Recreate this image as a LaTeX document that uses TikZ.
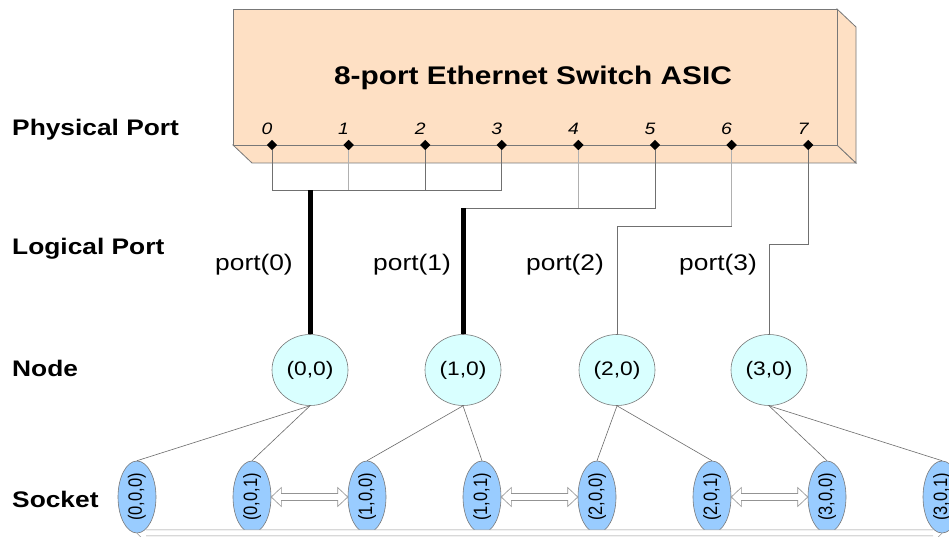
\documentclass[tikz,border=0pt]{standalone}
\usepackage{fontspec}
\setmainfont{Liberation Sans}[FakeStretch=1.17]
\newfontfamily\uprightsans{Liberation Sans}
\usetikzlibrary{shapes.geometric,calc}

\definecolor{asicfill}{RGB}{254,224,196}
\definecolor{cpufill}{RGB}{217,255,255}
\definecolor{sockfill}{RGB}{153,204,255}
\definecolor{wiredark}{RGB}{112,112,112}
\definecolor{wirelight}{RGB}{176,176,176}
\definecolor{outline}{RGB}{120,120,120}

% hollow double arrow between two sockets (east side of #1 to west side of #2)
\newcommand\linkarrow[2]{%
  \draw[linkarrow] (#1.east) -- ($(#1.east)+(10,-9.5)$) -- ($(#1.east)+(10,-3.5)$)
    -- ($(#2.west)+(-10,-3.5)$) -- ($(#2.west)+(-10,-9.5)$) -- (#2.west)
    -- ($(#2.west)+(-10,9.5)$) -- ($(#2.west)+(-10,3.5)$)
    -- ($(#1.east)+(10,3.5)$) -- ($(#1.east)+(10,9.5)$) -- cycle;}
% socket caption, reading upwards, widened across the text
\newcommand\socktext[1]{\rotatebox{90}{\scalebox{1}[1.17]{#1}}}

\begin{document}
\begin{tikzpicture}[x=1pt,y=-1pt,
  face/.style={fill=asicfill, draw=outline, line width=0.8pt, line join=miter},
  portpin/.style={diamond, fill=black, inner sep=0pt, minimum size=10.5pt},
  pinlabel/.style={font=\fontsize{16.5}{18}\selectfont\itshape, inner sep=0pt},
  wire/.style={draw=wiredark, line width=0.8pt},
  wirelt/.style={draw=wirelight, line width=0.8pt},
  trunk/.style={draw=black, line width=5pt},
  rowlabel/.style={font=\fontsize{22.5}{26}\selectfont\bfseries, anchor=base west, inner sep=0pt},
  portname/.style={font=\fontsize{22.5}{26}\selectfont, anchor=base, inner sep=0pt},
  cpunode/.style={ellipse, draw=outline, fill=cpufill, line width=0.6pt,
    minimum width=76pt, minimum height=71pt, inner sep=0pt, font=\fontsize{19.5}{21}\selectfont},
  socket/.style={ellipse, draw=outline, fill=sockfill, line width=0.6pt,
    minimum width=38pt, minimum height=72pt, inner sep=0pt, font=\uprightsans\fontsize{16.5}{18}\selectfont},
  linkarrow/.style={draw=outline!80, fill=white, line width=0.6pt, line join=miter},
  tree/.style={draw=outline!90!black, line width=0.6pt}
]
\useasboundingbox (0,0) rectangle (949,537);

% the ASIC block, drawn as a box with depth
\fill[white] (0,0) rectangle (949,537);
\draw[face] (233,145) -- (837,145) -- (856,163) -- (252,163) -- cycle;
\draw[face] (837,9) -- (856,27) -- (856,163) -- (837,145) -- cycle;
\draw[face] (233,9) rectangle (837,145);
\node[font=\fontsize{25.5}{30}\selectfont\bfseries, anchor=base, inner sep=0pt] (title) at (533,85) {8-port Ethernet Switch ASIC};

% row captions
\node[rowlabel] (capphys) at (12,136) {Physical Port};
\node[rowlabel] (caplog) at (12,254) {Logical Port};
\node[rowlabel] (capnode) at (12,376) {Node};
\node[rowlabel] (capsock) at (12,507) {Socket};

% physical ports
\foreach \i in {0,...,7} {
  \node[portpin] (p\i) at ({272+76.6*\i},145) {};
  \node[pinlabel] (pl\i) at ({267+76.6*\i},128.5) {\i};
}

% nodes
\node[cpunode] (n0) at (310,370) {(0,0)};
\node[cpunode] (n1) at (463,370) {(1,0)};
\node[cpunode] (n2) at (617,370) {(2,0)};
\node[cpunode] (n3) at (769,370) {(3,0)};

% sockets
\node[socket] (s000) at (137,497) {\socktext{(0,0,0)}};
\node[socket] (s001) at (252,497) {\socktext{(0,0,1)}};
\node[socket] (s100) at (367,497) {\socktext{(1,0,0)}};
\node[socket] (s101) at (482,497) {\socktext{(1,0,1)}};
\node[socket] (s200) at (597,497) {\socktext{(2,0,0)}};
\node[socket] (s201) at (712,497) {\socktext{(2,0,1)}};
\node[socket] (s300) at (827,497) {\socktext{(3,0,0)}};
\node[socket] (s301) at (942,497) {\socktext{(3,0,1)}};

% bus levels
\coordinate (bus0) at (0,190);
\coordinate (bus1) at (0,208);
\coordinate (bus2) at (0,226.5);
\coordinate (bus3) at (0,244);

% port wiring
\draw[wire] (p0.south) -- (p0|-bus0) -- (p3|-bus0) -- (p3.south);
\draw[wirelt] (p1.south) -- (p1|-bus0);
\draw[wire] (p2.south) -- (p2|-bus0);
\draw[wirelt] (p4.south) -- (p4|-bus1);
\draw[wire] (p5.south) -- (p5|-bus1) -- (n1|-bus1);
\draw[wirelt] (p6.south) -- (p6|-bus2);
\draw[wire] (p6|-bus2) -- (n2|-bus2) -- (n2.north);
\draw[wire] (p7.south) -- (p7|-bus3) -- (n3|-bus3) -- (n3.north);
\draw[trunk] (n0.north) -- (n0|-bus0);
\draw[trunk] (n1.north) -- (n1|-bus1);

% logical port names
\node[portname] (lp0) at (254,270) {port(0)};
\node[portname] (lp1) at (412,270) {port(1)};
\node[portname] (lp2) at (565,270) {port(2)};
\node[portname] (lp3) at (718,270) {port(3)};

% node to socket
\draw[tree] (n0.south) -- (s000.north);
\draw[tree] (n0.south) -- (s001.north);
\draw[tree] (n1.south) -- (s100.north);
\draw[tree] (n1.south) -- (s101.north);
\draw[tree] (n2.south) -- (s200.north);
\draw[tree] (n2.south) -- (s201.north);
\draw[tree] (n3.south) -- (s300.north);
\draw[tree] (n3.south) -- (s301.north);

% links between neighbouring sockets
\linkarrow{s001}{s100}
\linkarrow{s101}{s200}
\linkarrow{s201}{s300}

% long link along the bottom
\fill[white] ($(s000.south)+(9,-3.5)$) rectangle ($(s301.south)+(-9,2.5)$);
\draw[linkarrow] ($(s000.south)+(9,-3.5)$) -- ($(s301.south)+(-9,-3.5)$)
  ($(s000.south)+(9,2.5)$) -- ($(s301.south)+(-9,2.5)$)
  (s000.south) -- ++(9,9) (s301.south) -- ++(-9,9);
\end{tikzpicture}
\end{document}
